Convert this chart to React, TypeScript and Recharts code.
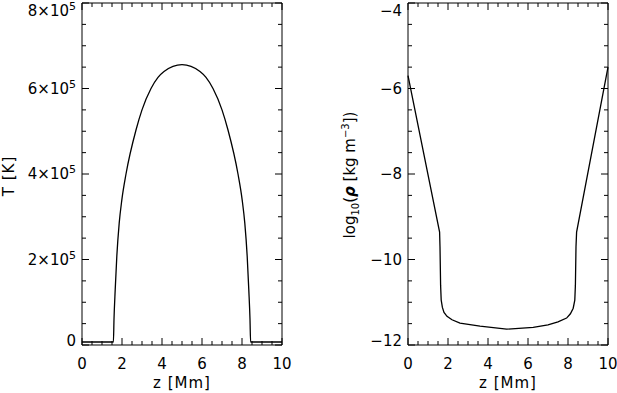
import React from 'react';
import { LineChart, Line, XAxis, YAxis, ReferenceLine } from 'recharts';

// temperature profile along the loop
const zTemp = [0, 1.57, 1.6, 1.66, 1.74, 1.86, 1.99, 2.2, 2.7, 3.0, 3.45, 3.8, 4.1, 5.0, 5.9, 6.2, 6.55, 7.0, 7.3, 7.8, 8.01, 8.14, 8.26, 8.34, 8.4, 8.43, 10];
const temp = [7000, 7000, 60000, 129000, 207000, 285000, 339000, 400000, 503000, 550000, 600000, 626000, 640000, 656000, 640000, 626000, 600000, 550000, 503000, 400000, 339000, 285000, 207000, 129000, 60000, 7000, 7000];

// log10 density profile
const zRho = [0, 1.58, 1.6, 1.63, 1.66, 1.72, 1.8, 1.95, 2.2, 2.6, 3.6, 4.93, 6.26, 7.0, 7.5, 7.93, 8.12, 8.26, 8.34, 8.37, 8.4, 8.43, 10];
const logRho = [-5.7, -9.36, -9.7, -10.6, -10.95, -11.12, -11.24, -11.33, -11.41, -11.49, -11.56, -11.63, -11.59, -11.53, -11.46, -11.37, -11.27, -11.14, -10.95, -10.6, -9.7, -9.36, -5.5];

// tick positions (major ones get labels)
const zTicks = [0, 0.5, 1, 1.5, 2, 2.5, 3, 3.5, 4, 4.5, 5, 5.5, 6, 6.5, 7, 7.5, 8, 8.5, 9, 9.5, 10];
const zMajor = [0, 2, 4, 6, 8, 10];
const tTicks = [0, 50000, 100000, 150000, 200000, 250000, 300000, 350000, 400000, 450000, 500000, 550000, 600000, 650000, 700000, 750000, 800000];
const tMajor = [0, 200000, 400000, 600000, 800000];
const rhoTicks = [-12, -11.5, -11, -10.5, -10, -9.5, -9, -8.5, -8, -7.5, -7, -6.5, -6, -5.5, -5, -4.5, -4];
const rhoMajor = [-12, -10, -8, -6, -4];

const tempData = zTemp.map((z, i) => ({ z, t: temp[i] }));
const rhoData = zRho.map((z, i) => ({ z, rho: logRho[i] }));

const FONT = 'DejaVu Sans';
const FS = 15;
const PLOT_H = 342;
const MAJOR_LEN = 7;
const MINOR_LEN = 4;

const makeXTick = (majors: number[]) => (props: any) => {
  const { x, y, payload } = props;
  const v = payload.value;
  const isMajor = majors.includes(v);
  const len = isMajor ? MAJOR_LEN : MINOR_LEN;
  const top = y - PLOT_H;
  return (
    <g>
      <line x1={x} x2={x} y1={y} y2={y - len} stroke="#000" strokeWidth={1} />
      <line x1={x} x2={x} y1={top} y2={top + len} stroke="#000" strokeWidth={1} />
      {isMajor && (
        <text x={x} y={y + 24} textAnchor="middle" fontFamily={FONT} fontSize={FS} fill="#000">
          {v}
        </text>
      )}
    </g>
  );
};

const makeYTick = (majors: number[], plotW: number, fmt: (v: number) => React.ReactNode) => (props: any) => {
  const { x, y, payload } = props;
  const v = payload.value;
  const isMajor = majors.includes(v);
  const len = isMajor ? MAJOR_LEN : MINOR_LEN;
  const lo = Math.min(...majors);
  const hi = Math.max(...majors);
  const shift = v === hi ? 8 : v === lo ? -4 : 0;
  return (
    <g>
      <line x1={x} x2={x + len} y1={y} y2={y} stroke="#000" strokeWidth={1} />
      <line x1={x + plotW} x2={x + plotW - len} y1={y} y2={y} stroke="#000" strokeWidth={1} />
      {isMajor && (
        <text x={x - 6} y={y + 5 + shift} textAnchor="end" fontFamily={FONT} fontSize={FS} fill="#000">
          {fmt(v)}
        </text>
      )}
    </g>
  );
};

const fmtTemp = (v: number) =>
  v === 0 ? '0' : (
    <>
      {`${v / 100000}×10`}
      <tspan fontSize={11} dy={-6}>5</tspan>
    </>
  );

const fmtRho = (v: number) => `−${Math.abs(v)}`;

const zTitle = (cx: number) => () => (
  <text x={cx} y={388} textAnchor="middle" fontFamily={FONT} fontSize={FS} fill="#000" letterSpacing={1}>
    z [Mm]
  </text>
);

const tTitle = () => (
  <text transform="translate(14,176) rotate(-90)" x={0} y={0} textAnchor="middle" fontFamily={FONT} fontSize={FS} fill="#000" letterSpacing={1}>
    T [K]
  </text>
);

// right chart's svg starts at x = 300 on the page
const rhoTitle = () => (
  <text transform="translate(55,175) rotate(-90)" x={0} y={0} textAnchor="middle" fontFamily={FONT} fontSize={FS} fill="#000">
    log<tspan fontSize={10} dy={4}>10</tspan>
    <tspan dy={-4}>(</tspan>
    <tspan fontStyle="italic" fontWeight="bold">ρ</tspan>
    {' [kg m'}
    <tspan fontSize={10} dy={-6}>−3</tspan>
    <tspan dy={6}>])</tspan>
  </text>
);

export default function App() {
  return (
    <div style={{ position: 'absolute', left: 0, top: 0, width: 617, height: 393, background: '#fff' }}>
      <div style={{ position: 'absolute', left: 0, top: 0 }}>
        <LineChart width={300} height={393} data={tempData} margin={{ top: 3, right: 18, bottom: 0, left: 0 }}>
          <XAxis
            dataKey="z"
            type="number"
            domain={[0, 10]}
            ticks={zTicks}
            interval={0}
            height={48}
            tickSize={0}
            tickMargin={0}
            tickLine={false}
            axisLine={{ stroke: '#000' }}
            tick={makeXTick(zMajor)}
            label={zTitle(182)}
          />
          <YAxis
            type="number"
            domain={[0, 800000]}
            ticks={tTicks}
            interval={0}
            width={82}
            tickSize={0}
            tickMargin={0}
            tickLine={false}
            axisLine={{ stroke: '#000' }}
            tick={makeYTick(tMajor, 200, fmtTemp)}
            label={tTitle}
          />
          <ReferenceLine y={800000} stroke="#000" />
          <ReferenceLine x={10} stroke="#000" />
          <Line type="monotone" dataKey="t" stroke="#000" strokeWidth={1.3} dot={false} isAnimationActive={false} />
        </LineChart>
      </div>
      <div style={{ position: 'absolute', left: 300, top: 0 }}>
        <LineChart width={317} height={393} data={rhoData} margin={{ top: 3, right: 9, bottom: 0, left: 0 }}>
          <XAxis
            dataKey="z"
            type="number"
            domain={[0, 10]}
            ticks={zTicks}
            interval={0}
            height={48}
            tickSize={0}
            tickMargin={0}
            tickLine={false}
            axisLine={{ stroke: '#000' }}
            tick={makeXTick(zMajor)}
            label={zTitle(208)}
          />
          <YAxis
            type="number"
            domain={[-12, -4]}
            ticks={rhoTicks}
            interval={0}
            width={108}
            tickSize={0}
            tickMargin={0}
            tickLine={false}
            axisLine={{ stroke: '#000' }}
            tick={makeYTick(rhoMajor, 200, fmtRho)}
            label={rhoTitle}
          />
          <ReferenceLine y={-4} stroke="#000" />
          <ReferenceLine x={10} stroke="#000" />
          <Line type="linear" dataKey="rho" stroke="#000" strokeWidth={1.3} dot={false} isAnimationActive={false} />
        </LineChart>
      </div>
    </div>
  );
}
